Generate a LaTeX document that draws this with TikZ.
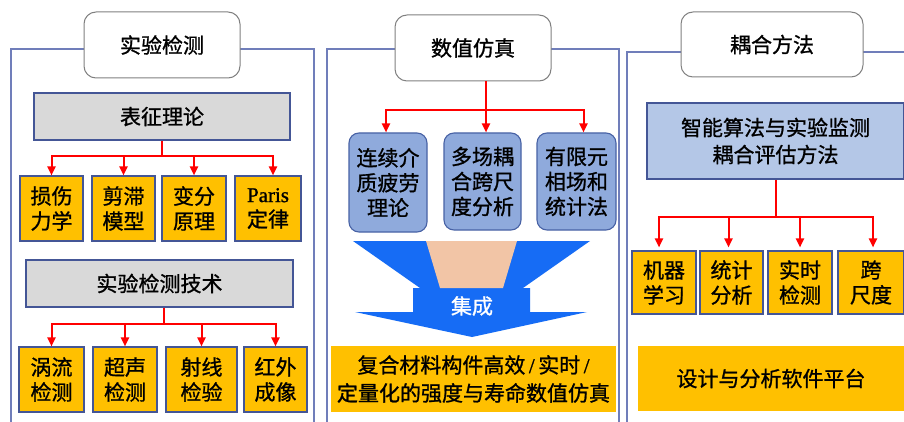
\documentclass[tikz,border=0pt]{standalone}
\usepackage{fontspec}
\setmainfont{Noto Sans CJK SC}[FakeBold=1]
\newfontfamily\latinf{Liberation Serif}[FakeBold=1]
\usetikzlibrary{arrows.meta}
\definecolor{framec}{RGB}{112,126,186}
\definecolor{bordc}{RGB}{68,86,150}
\definecolor{grayc}{RGB}{217,217,217}
\definecolor{orangec}{RGB}{255,192,0}
\definecolor{bluec}{RGB}{143,170,220}
\definecolor{bluebord}{RGB}{72,98,165}
\definecolor{lightbluec}{RGB}{180,199,231}
\definecolor{arrowblue}{RGB}{22,108,245}
\definecolor{peach}{RGB}{242,197,166}
\definecolor{titlebord}{RGB}{128,128,128}
\begin{document}
\begin{tikzpicture}[x=1pt,y=-1pt,
  panel/.style={draw=framec, line width=1.3pt},
  titlebox/.style={draw=titlebord, fill=white, rounded corners=12pt, line width=1pt, inner sep=0pt, font=\fontsize{21}{25}\selectfont},
  graybox/.style={draw=bordc, fill=grayc, line width=1.2pt, inner sep=0pt, align=center, font=\fontsize{21}{27}\selectfont},
  obox/.style={draw=bordc, fill=orangec, line width=1.1pt, inner sep=0pt, align=center, font=\fontsize{21}{25}\selectfont},
  plainbox/.style={fill=orangec, inner sep=0pt, align=center, font=\fontsize{21}{28}\selectfont},
  bbox/.style={draw=bluebord, fill=bluec, line width=1.1pt, rounded corners=10pt, inner sep=0pt, align=center, font=\fontsize{21}{25}\selectfont},
  rline/.style={draw=red, line width=2pt},
  rarrow/.style={draw=red, line width=2pt, -{Triangle[length=9pt,width=8pt]}}
]
\useasboundingbox (0,0) rectangle (904,422);
\clip (0,0) rectangle (904,422);
\fill[white] (0,0) rectangle (904,422);

% ---------- panels ----------
\draw[panel] (11,49) rectangle (314,440);
\draw[panel] (327,49) rectangle (619,440);
\draw[panel] (627,52) rectangle (920,440);

% ---------- left panel ----------
\node[titlebox, minimum width=156pt, minimum height=66pt] (t1) at (162,45) {实验检测};
\node[graybox, minimum width=256pt, minimum height=47pt] (bz) at (162,116.5) {表征理论};
\node[obox, minimum width=63pt, minimum height=65pt] (b1) at (51.5,208.5) {损伤\\力学};
\node[obox, minimum width=63pt, minimum height=65pt] (b2) at (123.5,208.5) {剪滞\\模型};
\node[obox, minimum width=64pt, minimum height=65pt] (b3) at (194,208.5) {变分\\原理};
\node[obox, minimum width=66pt, minimum height=65pt] (b4) at (268,208.5) {{\latinf Paris}\\定律};

\node[graybox, minimum width=267pt, minimum height=47pt] (js) at (159.5,283.5) {实验检测技术};
\node[obox, minimum width=65pt, minimum height=65pt] (c1) at (51.5,379.5) {涡流\\检测};
\node[obox, minimum width=64pt, minimum height=65pt] (c2) at (125,379.5) {超声\\检测};
\node[obox, minimum width=71pt, minimum height=65pt] (c3) at (201.5,379.5) {射线\\检验};
\node[obox, minimum width=63pt, minimum height=65pt] (c4) at (275.5,379.5) {红外\\成像};

\path (bz.south) ++(0,15) coordinate (j1);
\draw[rline] (bz.south) -- (j1);
\draw[rarrow] (j1) -| (b1.north);
\draw[rarrow] (j1) -| (b2.north);
\draw[rarrow] (j1) -| (b3.north);
\draw[rarrow] (j1) -| ([xshift=5pt]b4.north);

\path ([xshift=4pt]js.south) coordinate (s1b);
\path (s1b) ++(0,16) coordinate (j1b);
\draw[rline] (s1b) -- (j1b);
\draw[rarrow] (j1b) -| (c1.north);
\draw[rarrow] (j1b) -| (c2.north);
\draw[rarrow] (j1b) -| (c3.north);
\draw[rarrow] (j1b) -| (c4.north);

% ---------- middle panel ----------
\node[titlebox, minimum width=156pt, minimum height=66pt] (t2) at (473,48) {数值仿真};
\node[bbox, minimum width=78pt, minimum height=99pt] (m1) at (388,182.5) {连续介\\质疲劳\\理论};
\node[bbox, minimum width=77pt, minimum height=97pt] (m2) at (482.5,181.5) {多场耦\\合跨尺\\度分析};
\node[bbox, minimum width=79pt, minimum height=97pt] (m3) at (576.5,181.5) {有限元\\相场和\\统计法};

\path ([xshift=13pt]t2.south) coordinate (s2);
\path (s2) ++(0,29) coordinate (j2);
\draw[rarrow] (s2) -- (s2 |- m2.north);
\draw[rarrow] (j2) -| ([xshift=-2pt]m1.north);
\draw[rarrow] (j2) -| ([xshift=7pt]m3.north);

% integration arrow
\fill[arrowblue] (353,241) -- (590,241) -- (523,288) -- (530,288) -- (530,312) -- (587,312)
  -- (472,337) -- (355,312) -- (413,312) -- (413,288) -- (420,288) -- cycle;
\fill[peach] (426,241) -- (517,241) -- (503,288) -- (440,288) -- cycle;
\node[text=white, font=\fontsize{21}{25}\selectfont, inner sep=0pt] (jc) at (472,306) {集成};

\node[plainbox, minimum width=285pt, minimum height=66pt] (mo) at (473.5,379) {复合材料构件高效{\latinf\,/\,}实时{\latinf\,/}\\定量化的强度与寿命数值仿真};

% ---------- right panel ----------
\node[titlebox, minimum width=182pt, minimum height=65pt] (t3) at (772,44.5) {耦合方法};
\node[graybox, fill=lightbluec, minimum width=257pt, minimum height=76pt] (zn) at (775.5,141) {智能算法与实验监测\\耦合评估方法};
\node[obox, minimum width=64pt, minimum height=63pt] (r1) at (664,282.5) {机器\\学习};
\node[obox, minimum width=63pt, minimum height=63pt] (r2) at (731.5,282.5) {统计\\分析};
\node[obox, minimum width=64pt, minimum height=63pt] (r3) at (800,282.5) {实时\\检测};
\node[obox, minimum width=66pt, minimum height=63pt] (r4) at (871,282.5) {跨\\尺度};

\path (zn.south) ++(0,37) coordinate (j3);
\draw[rline] (zn.south) -- (j3);
\draw[rarrow, shorten >=3pt] (j3) -| ([xshift=-5pt]r1.north);
\draw[rarrow, shorten >=3pt] (j3) -| ([xshift=-3pt]r2.north);
\draw[rarrow, shorten >=3pt] (j3) -| (r3.north);
\draw[rarrow, shorten >=3pt] (j3) -| ([xshift=2pt]r4.north);

\node[plainbox, minimum width=266pt, minimum height=65pt] (ro) at (771,378.5) {设计与分析软件平台};
\end{tikzpicture}
\end{document}
